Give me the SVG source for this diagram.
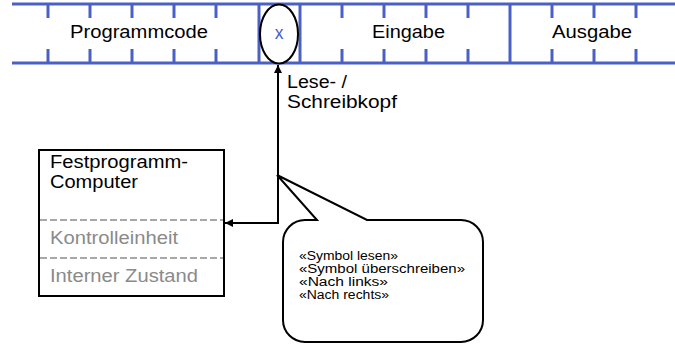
<svg xmlns="http://www.w3.org/2000/svg" width="675" height="345" viewBox="0 0 675 345">
<defs>
<style>
.tape{stroke:#4a60c6;stroke-width:3;fill:none}
.t{font-family:"Liberation Sans",Arial,sans-serif;fill:#000}
.big{font-size:17.5px}
.small{font-size:12px}
.gray{fill:#8a8a8a}
.dash{stroke:#a8a8a8;stroke-width:2;stroke-dasharray:7 3;fill:none}
.line{stroke:#000;stroke-width:2;fill:none}
</style>
<marker id="ah" viewBox="0 0 10 10" refX="10" refY="5" markerWidth="8" markerHeight="8" markerUnits="userSpaceOnUse" orient="auto-start-reverse">
<path d="M0,0 L10,5 L0,10 Z" fill="#000"/>
</marker>
</defs>
<rect width="675" height="345" fill="#fff"/>
<g id="tape">
<path class="tape" d="M12,4 H675 M12,63 H675 M259,4 V63 M300,4 V63 M510,4 V63"/>
<path class="tape" d="M48,4 V18 M90,4 V18 M132,4 V18 M174,4 V18 M216,4 V18 M342,4 V18 M384,4 V18 M426,4 V18 M468,4 V18 M552,4 V18 M594,4 V18 M636,4 V18"/>
<path class="tape" d="M48,49 V63 M90,49 V63 M132,49 V63 M174,49 V63 M216,49 V63 M342,49 V63 M384,49 V63 M426,49 V63 M468,49 V63 M552,49 V63 M594,49 V63 M636,49 V63"/>
<text class="t big" x="70" y="38" textLength="138" lengthAdjust="spacingAndGlyphs">Programmcode</text>
<text class="t big" x="372" y="38" textLength="73" lengthAdjust="spacingAndGlyphs">Eingabe</text>
<text class="t big" x="552" y="38" textLength="80" lengthAdjust="spacingAndGlyphs">Ausgabe</text>
</g>
<g id="head">
<ellipse cx="279" cy="34" rx="19" ry="29.5" fill="#fff" stroke="#000" stroke-width="2"/>
<text class="t big" x="279" y="39" text-anchor="middle" style="fill:#4a60c6">x</text>
<text class="t big" x="287" y="88" textLength="60" lengthAdjust="spacingAndGlyphs">Lese- /</text>
<text class="t big" x="287" y="108" textLength="110" lengthAdjust="spacingAndGlyphs">Schreibkopf</text>
</g>
<g id="computer">
<rect x="39" y="150" width="185" height="146" fill="#fff" stroke="#000" stroke-width="2"/>
<line class="dash" x1="40" y1="220" x2="223" y2="220"/>
<line class="dash" x1="40" y1="258" x2="223" y2="258"/>
<text class="t big" x="50" y="168" textLength="138" lengthAdjust="spacingAndGlyphs">Festprogramm-</text>
<text class="t big" x="50" y="188" textLength="88" lengthAdjust="spacingAndGlyphs">Computer</text>
<text class="t big gray" x="50" y="244" textLength="128" lengthAdjust="spacingAndGlyphs">Kontrolleinheit</text>
<text class="t big gray" x="50" y="282" textLength="148" lengthAdjust="spacingAndGlyphs">Interner Zustand</text>
</g>
<g id="connectors">
<path class="line" d="M225,223 H278 V65" marker-start="url(#ah)" marker-end="url(#ah)"/>
</g>
<g id="callout">
<path d="M305,220 H317 L277,175 L367,220 H461 A22,22 0 0 1 483,242 V320 A22,22 0 0 1 461,342 H305 A22,22 0 0 1 283,320 V242 A22,22 0 0 1 305,220 Z" fill="#fff" stroke="#000" stroke-width="2"/>
<text class="t small" x="299" y="260" textLength="99" lengthAdjust="spacingAndGlyphs">«Symbol lesen»</text>
<text class="t small" x="299" y="273" textLength="166" lengthAdjust="spacingAndGlyphs">«Symbol überschreiben»</text>
<text class="t small" x="299" y="286" textLength="89" lengthAdjust="spacingAndGlyphs">«Nach links»</text>
<text class="t small" x="299" y="299" textLength="90" lengthAdjust="spacingAndGlyphs">«Nach rechts»</text>
</g>
</svg>
